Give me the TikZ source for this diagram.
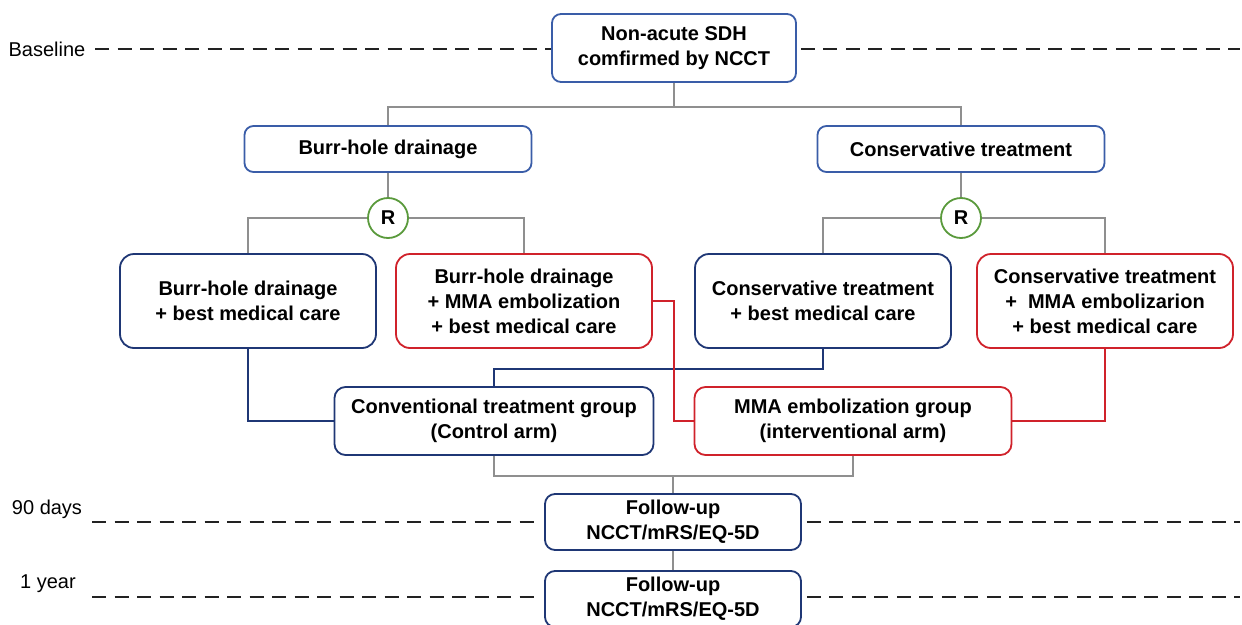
\documentclass[tikz,border=0pt]{standalone}
\usepackage{fontspec}
\setmainfont{Liberation Sans}
\definecolor{topblue}{HTML}{3A5DA8}
\definecolor{navy}{HTML}{1F3775}
\definecolor{boxred}{HTML}{D0222B}
\definecolor{rgreen}{HTML}{5A9A3C}
\definecolor{lgray}{HTML}{8F8F8F}
\definecolor{dgray}{HTML}{222222}
\begin{document}
\begin{tikzpicture}[x=1pt,y=-1pt,
  base/.style={rounded corners=11pt, line width=1.8pt, fill=white, align=center, inner sep=2pt,
     font=\fontsize{20}{25}\selectfont\bfseries},
  tbox/.style={base, draw=topblue, rounded corners=9pt},
  nbox/.style={base, draw=navy, rounded corners=14pt},
  rbox/.style={base, draw=boxred, rounded corners=14pt},
  rcirc/.style={circle, draw=rgreen, line width=1.8pt, fill=white, minimum size=40pt, inner sep=0pt,
     font=\fontsize{20}{25}\selectfont\bfseries},
  gline/.style={draw=lgray, line width=1.8pt},
  nline/.style={draw=navy, line width=1.8pt},
  redline/.style={draw=boxred, line width=1.8pt},
  dline/.style={draw=dgray, line width=1.4pt, dash pattern=on 14pt off 8.5pt},
  lab/.style={font=\fontsize{20}{25}\selectfont, inner sep=0pt}
]
\useasboundingbox (0,0) rectangle (1242,624);
\clip (0,0) rectangle (1242,624);

% nodes
\node[tbox, minimum width=244pt, minimum height=68pt] (top) at (674,48) {Non-acute SDH\\comfirmed by NCCT};
\node[tbox, minimum width=287pt, minimum height=46pt] (bh) at (388,149) {Burr-hole drainage};
\node[tbox, minimum width=287pt, minimum height=46pt] (ct) at (961,149) {Conservative treatment};
\node[rcirc] (r1) at (388,218) {R};
\node[rcirc] (r2) at (961,218) {R};
\node[nbox, minimum width=256pt, minimum height=94pt] (b1) at (248,301) {Burr-hole drainage\\+ best medical care};
\node[rbox, minimum width=256pt, minimum height=94pt] (b2) at (524,301) {Burr-hole drainage\\+ MMA embolization\\+ best medical care};
\node[nbox, minimum width=256pt, minimum height=94pt] (b3) at (823,301) {Conservative treatment\\+ best medical care};
\node[rbox, minimum width=256pt, minimum height=94pt] (b4) at (1105,301) {Conservative treatment\\+\ \ MMA embolizarion\\+ best medical care};
\node[nbox, minimum width=319pt, minimum height=68pt, rounded corners=11pt] (cg) at (494,421) {Conventional treatment group\\(Control arm)};
\node[rbox, minimum width=317pt, minimum height=68pt, rounded corners=11pt] (mg) at (853,421) {MMA embolization group\\(interventional arm)};
\node[nbox, minimum width=256pt, minimum height=56pt, rounded corners=10pt] (fu1) at (673,522) {Follow-up\\NCCT/mRS/EQ-5D};
\node[nbox, minimum width=256pt, minimum height=56pt, rounded corners=10pt] (fu2) at (673,599) {Follow-up\\NCCT/mRS/EQ-5D};

% time labels
\node[lab] (l0) at (47,49) {Baseline};
\node[lab] (l1) at (47,509) {90 days};
\node[lab] (l2) at (48,584) {1 year};

% dashed time lines
\coordinate (d0a) at (95,49);
\coordinate (d0b) at (1240,49);
\coordinate (d1a) at (92,522);
\coordinate (d1b) at (1240,522);
\coordinate (d2a) at (92,597);
\coordinate (d2b) at (1240,597);
\begin{scope}[on background layer/.style={}]
\draw[dline] (d0a) -- (top.west |- d0a);
\draw[dline] (top.east |- d0b) ++(4,0) -- (d0b);
\draw[dline] (d1a) -- ([xshift=-5pt]fu1.west |- d1a);
\draw[dline] ([xshift=5pt]fu1.east |- d1b) -- (d1b);
\draw[dline] (d2a) -- ([xshift=-5pt]fu2.west |- d2a);
\draw[dline] ([xshift=5pt]fu2.east |- d2b) -- (d2b);
\end{scope}

% gray tree connectors
\draw[gline] (top.south) -- ++(0,24) coordinate (j0);
\draw[gline] (j0) -| (bh.north);
\draw[gline] (j0) -| (ct.north);
\draw[gline] (bh.south) -- (r1.north);
\draw[gline] (ct.south) -- (r2.north);
\draw[gline] (r1.west) -| (b1.north);
\draw[gline] (r1.east) -| (b2.north);
\draw[gline] (r2.west) -| (b3.north);
\draw[gline] (r2.east) -| (b4.north);

% group connectors
\draw[nline] (b1.south) |- (cg.west);
\draw[nline] (b3.south) -- ++(0,20) -| (cg.north);
\draw[redline] (b2.east) -- ++(21,0) |- (mg.west);
\draw[redline] (b4.south) |- (mg.east);

% bottom gray connectors
\draw[gline] (cg.south) -- ++(0,20) coordinate (j1) -| (mg.south);
\draw[gline] (fu1.north) -- (fu1.north |- j1);
\draw[gline] (fu1.south) -- (fu2.north);
\end{tikzpicture}
\end{document}
